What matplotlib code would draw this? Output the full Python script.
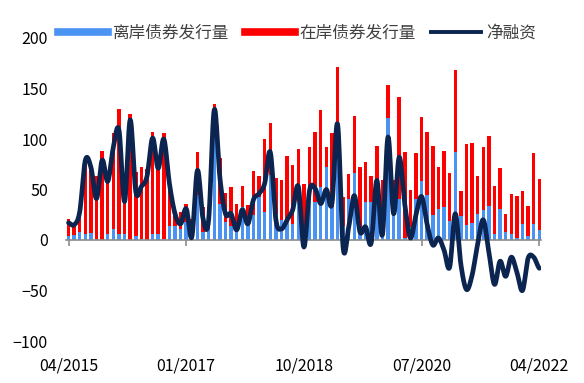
#!/usr/bin/env python

import numpy as np
import matplotlib
matplotlib.use('Agg')
import matplotlib.pyplot as plt
from matplotlib.lines import Line2D

# monthly data 04/2015 - 04/2022
TICK_LABELS = ['04/2015', '01/2017', '10/2018', '07/2020', '04/2022']
TICK_POS = [0, 21, 42, 63, 84]

OFFSHORE = [4, 5, 8, 6, 7, 1, 0, 6, 11, 6,
            6, 0, 4, 1, 0, 6, 6, 1, 14, 14,
            11, 18, 12, 45, 8, 11, 110, 36, 18, 14,
            10, 33, 18, 25, 43, 28, 64, 26, 20, 21,
            16, 38, 10, 40, 38, 52, 72, 33, 110, 14,
            41, 66, 13, 38, 38, 40, 28, 121, 40, 41,
            2, 13, 41, 58, 45, 25, 31, 33, 19, 87,
            24, 15, 17, 26, 30, 34, 6, 31, 8, 6,
            2, 16, 4, 16, 10]

TOTAL = [21, 17, 34, 75, 70, 63, 88, 60, 106, 130,
         45, 125, 67, 72, 70, 107, 75, 106, 61, 28,
         28, 36, 21, 87, 33, 22, 135, 81, 47, 52,
         36, 53, 35, 68, 63, 100, 116, 61, 59, 83,
         74, 90, 55, 92, 107, 129, 92, 106, 171, 43,
         65, 123, 72, 77, 63, 93, 59, 153, 59, 142,
         87, 50, 86, 122, 107, 93, 72, 88, 66, 168,
         49, 95, 96, 63, 92, 103, 53, 71, 26, 46,
         44, 49, 34, 86, 60]

NET = [17, 15, 28, 79, 72, 41, 79, 58, 92, 109,
       38, 119, 48, 53, 63, 101, 71, 100, 56, 26,
       16, 31, 3, 69, 21, 20, 129, 62, 26, 26,
       10, 30, 16, 40, 46, 56, 87, 20, 11, 20,
       30, 53, -7, 49, 51, 36, 50, 36, 115, -8,
       13, 44, 8, 13, -3, 59, 5, 102, 26, 82,
       35, 2, 25, 43, 15, -5, 2, -10, -27, 26,
       -24, -49, -35, -4, 20, -12, -44, -21, -36, -17,
       -32, -50, -18, -17, -28]

LABELS = ['离岸债券发行量', '在岸债券发行量', '净融资']

BLUE = '#4B93F2'
RED = '#FF0000'
NAVY = '#0B2550'


def smooth(x, y, n=12):
    # catmull-rom through the points, like excel's smoothed line
    x = np.asarray(x, float)
    y = np.asarray(y, float)
    px = np.concatenate([[2 * x[0] - x[1]], x, [2 * x[-1] - x[-2]]])
    py = np.concatenate([[y[0]], y, [y[-1]]])
    t = np.linspace(0, 1, n, endpoint=False)
    xs, ys = [], []
    for i in range(1, len(px) - 2):
        for p, out in ((px, xs), (py, ys)):
            p0, p1, p2, p3 = p[i - 1], p[i], p[i + 1], p[i + 2]
            out.extend(0.5 * (2 * p1 + (-p0 + p2) * t
                              + (2 * p0 - 5 * p1 + 4 * p2 - p3) * t ** 2
                              + (-p0 + 3 * p1 - 3 * p2 + p3) * t ** 3))
    xs.append(x[-1])
    ys.append(y[-1])
    return np.array(xs), np.array(ys)


def main():
    plt.rcParams['font.family'] = ['Noto Sans CJK SC', 'DejaVu Sans']

    fig = plt.figure(figsize=(5.84, 3.83), dpi=100)
    ax = fig.add_axes([66 / 584, 42 / 383, 475 / 584, 303 / 383])

    idx = np.arange(len(TOTAL))
    off = np.array(OFFSHORE, float)
    on = np.array(TOTAL, float) - off

    ax.bar(idx, off, width=0.62, color=BLUE, zorder=2)
    ax.bar(idx, on, bottom=off, width=0.62, color=RED, zorder=2)

    sx, sy = smooth(idx, NET)
    ax.plot(sx, sy, color=NAVY, linewidth=3.4, solid_capstyle='round', zorder=3)

    ax.set_xlim(-0.45, 84.3)
    ax.set_ylim(-100, 200)
    ax.set_yticks(range(-100, 201, 50))
    ax.tick_params(axis='y', length=0, pad=13, labelsize=11.5, labelcolor='#000000')

    for s in ['left', 'right', 'top']:
        ax.spines[s].set_visible(False)
    ax.spines['bottom'].set_position(('data', 0))
    ax.spines['bottom'].set_color('#8C8C8C')
    ax.spines['bottom'].set_linewidth(1.2)
    ax.set_xticks(TICK_POS)
    ax.set_xticklabels([])
    ax.tick_params(axis='x', direction='out', length=4, color='#8C8C8C', width=1.2)

    sec = ax.secondary_xaxis(0)
    sec.set_xticks(TICK_POS)
    sec.set_xticklabels(TICK_LABELS)
    sec.tick_params(length=0, pad=12, labelsize=11.5)
    sec.spines['bottom'].set_visible(False)

    handles = [Line2D([], [], color=BLUE, linewidth=5.5),
               Line2D([], [], color=RED, linewidth=5.5),
               Line2D([], [], color=NAVY, linewidth=2.8)]
    leg = fig.legend(handles, LABELS, loc='center', bbox_to_anchor=(297 / 584, 1 - 33 / 383),
                     ncol=3, frameon=False, fontsize=12, handlelength=3.0,
                     handletextpad=0.3, columnspacing=0.9)
    for t in leg.get_texts():
        t.set_color('#404040')

    plt.savefig('out.png', dpi=100)


if __name__ == '__main__':
    main()
